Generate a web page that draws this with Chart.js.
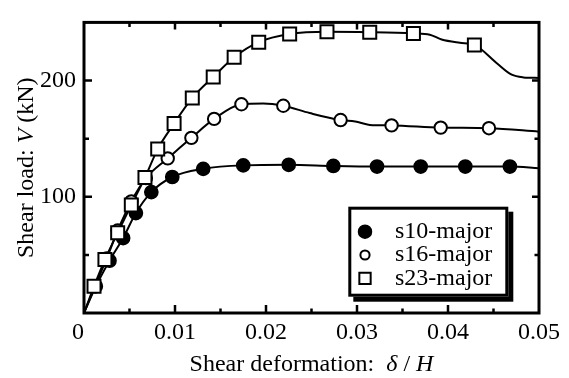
<!DOCTYPE html>
<html><head><meta charset="utf-8">
<script src="https://cdn.jsdelivr.net/npm/chart.js@4/dist/chart.umd.min.js"></script>
<style>html,body{margin:0;padding:0;background:#fff;}canvas{display:block;}</style>
</head><body>
<canvas id="c" width="569" height="378"></canvas>
<script>
// ---- data ----
const xTickLabels = ['0', '0.01', '0.02', '0.03', '0.04', '0.05'];
const yTickLabels = ['100', '200'];
const seriesNames = ['s10-major', 's16-major', 's23-major'];

// marker points
const s10X = [0.0013, 0.0028, 0.0043, 0.0057, 0.0074, 0.0097, 0.0131, 0.0175, 0.0225, 0.0274, 0.0322, 0.0370, 0.0419, 0.0468];
const s10Y = [23, 45, 64.5, 86, 104, 117, 124, 127, 127.5, 126.5, 126, 126, 126, 126];
const s16X = [0.0012, 0.0025, 0.0037, 0.0052, 0.0068, 0.0092, 0.0118, 0.0143, 0.0173, 0.0219, 0.0282, 0.0338, 0.0392, 0.0445];
const s16Y = [23, 47, 71, 96, 116, 133, 150.7, 167, 179.6, 178.3, 166, 161.4, 159.5, 159];
const s23X = [0.0011, 0.0023, 0.0037, 0.0052, 0.0067, 0.0081, 0.0099, 0.0119, 0.0142, 0.0165, 0.0192, 0.0226, 0.0267, 0.0314, 0.0362, 0.0429];
const s23Y = [23, 46, 69, 93, 116.5, 141, 163, 185, 203, 220, 233, 240, 242, 241.6, 240.5, 230.6];

// additional points of the continuous curves (no marker)
const s10CurveX = [0, 0.05];
const s10CurveY = [0, 124.5];
const s16CurveX = [0, 0.0197, 0.0248, 0.0298, 0.0314, 0.05];
const s16CurveY = [0, 180.3, 172, 164.8, 161.8, 156];
const s23CurveX = [0, 0.0380, 0.0393, 0.0413, 0.0454, 0.0470, 0.0483, 0.05];
const s23CurveY = [0, 239.4, 235.3, 232.5, 214.6, 205, 202.7, 202.2];

// ---- helpers ----
const FONT = "'Liberation Serif','Times New Roman',serif";
const pts = (xs, ys) => xs.map((x, i) => ({x: x, y: ys[i]}));
const curve = (mx, my, cx, cy) => pts(mx, my).concat(pts(cx, cy)).sort((a, b) => a.x - b.x);

const curveStyle = {showLine: true, pointRadius: 0, pointHoverRadius: 0, borderColor: '#000', borderWidth: 2, cubicInterpolationMode: 'monotone', fill: false};

const datasets = [
  Object.assign({label: seriesNames[0] + ' curve', data: curve(s10X, s10Y, s10CurveX, s10CurveY), order: 12}, curveStyle),
  Object.assign({label: seriesNames[1] + ' curve', data: curve(s16X, s16Y, s16CurveX, s16CurveY), order: 11}, curveStyle),
  Object.assign({label: seriesNames[2] + ' curve', data: curve(s23X, s23Y, s23CurveX, s23CurveY), order: 10}, curveStyle),
  {label: seriesNames[0], data: pts(s10X, s10Y), showLine: false, pointStyle: 'circle', pointRadius: 6.6, borderWidth: 1.5, borderColor: '#000', backgroundColor: '#000', order: 2, legendR: 6.5},
  {label: seriesNames[1], data: pts(s16X, s16Y), showLine: false, pointStyle: 'circle', pointRadius: 6.2, borderWidth: 2, borderColor: '#000', backgroundColor: '#fff', order: 1, legendR: 4.6},
  {label: seriesNames[2], data: pts(s23X, s23Y), showLine: false, pointStyle: 'rect', pointRadius: 9.2, borderWidth: 2, borderColor: '#000', backgroundColor: '#fff', order: 0, legendR: 8}
];

function drawSegments(ctx, segs, cx, cy, size) {
  let total = 0;
  segs.forEach(s => { ctx.font = (s[1] ? 'italic ' : '') + size + 'px ' + FONT; s.w = ctx.measureText(s[0]).width; total += s.w; });
  let x = cx - total / 2;
  segs.forEach(s => { ctx.font = (s[1] ? 'italic ' : '') + size + 'px ' + FONT; ctx.fillText(s[0], x, cy); x += s.w; });
}

const framePlugin = {
  id: 'frame',
  afterDatasetsDraw(chart) {
    const ctx = chart.ctx, a = chart.chartArea, x = chart.scales.x, y = chart.scales.y;
    ctx.save();
    ctx.strokeStyle = '#000';
    ctx.lineCap = 'butt';
    ctx.lineWidth = 2.5;
    ctx.beginPath();
    const xt = x.ticks.map(t => t.value);
    xt.forEach((v, i) => {
      const px = x.getPixelForValue(v);
      if (v > x.min && v < x.max) {
        ctx.moveTo(px, a.bottom); ctx.lineTo(px, a.bottom - 8);
        ctx.moveTo(px, a.top); ctx.lineTo(px, a.top + 7);
      }
      if (i < xt.length - 1) {
        const m = x.getPixelForValue((v + xt[i + 1]) / 2);
        ctx.moveTo(m, a.bottom); ctx.lineTo(m, a.bottom - 4.5);
        ctx.moveTo(m, a.top); ctx.lineTo(m, a.top + 4.5);
      }
    });
    y.ticks.forEach(t => {
      if (t.value <= y.min || t.value >= y.max) return;
      const py = y.getPixelForValue(t.value);
      const major = yTickLabels.indexOf(String(t.value)) >= 0;
      ctx.moveTo(a.left, py); ctx.lineTo(a.left + (major ? 8 : 5), py);
      ctx.moveTo(a.right, py); ctx.lineTo(a.right - (major ? 7 : 4.5), py);
    });
    ctx.stroke();
    ctx.lineWidth = 3;
    ctx.strokeRect(a.left, a.top, a.right - a.left, a.bottom - a.top);

    // origin label of the x axis
    ctx.fillStyle = '#000';
    ctx.font = '24px ' + FONT;
    ctx.textAlign = 'center';
    ctx.textBaseline = 'middle';
    ctx.fillText(xTickLabels[0], x.getPixelForValue(0) - 6, a.bottom + 19.5);

    // axis titles
    ctx.textAlign = 'left';
    ctx.textBaseline = 'alphabetic';
    drawSegments(ctx, [['Shear deformation:  ', false], ['\u03B4', true], [' / ', false], ['H', true]], (a.left + a.right) / 2, 371, 24);
    ctx.save();
    ctx.translate(33, (a.top + a.bottom) / 2);
    ctx.rotate(-Math.PI / 2);
    drawSegments(ctx, [['Shear load: ', false], ['V', true], [' (kN)', false]], 0, 0, 24);
    ctx.restore();

    // legend
    const bw = 160, bh = 90;
    const bx = a.right - 30.7 - bw, by = a.bottom - 16.3 - bh;
    ctx.fillStyle = '#000';
    ctx.fillRect(bx + 5, by + 5, bw, bh);
    ctx.fillStyle = '#fff';
    ctx.fillRect(bx, by, bw, bh);
    ctx.lineWidth = 3;
    ctx.strokeRect(bx + 1.5, by + 1.5, bw - 3, bh - 3);
    const items = chart.data.datasets.filter(d => d.showLine === false);
    items.forEach((d, i) => {
      const cy = by + 25 + i * 23.3, mx = bx + 16.7;
      ctx.fillStyle = d.backgroundColor;
      ctx.strokeStyle = '#000';
      ctx.lineWidth = d.borderWidth;
      ctx.beginPath();
      if (d.pointStyle === 'rect') {
        const s = d.legendR * Math.SQRT1_2;
        ctx.rect(mx - s, cy - s, 2 * s, 2 * s);
      } else {
        ctx.arc(mx, cy, d.legendR, 0, Math.PI * 2);
      }
      ctx.fill(); ctx.stroke();
      ctx.fillStyle = '#000';
      ctx.font = '24px ' + FONT;
      ctx.textAlign = 'left';
      ctx.textBaseline = 'middle';
      ctx.fillText(d.label, bx + 46.7, cy);
    });
    ctx.restore();
  }
};

new Chart(document.getElementById('c'), {
  type: 'scatter',
  data: {datasets: datasets},
  options: {
    responsive: false,
    animation: false,
    devicePixelRatio: 1,
    layout: {padding: {top: 11, right: 30, left: 0, bottom: 0}},
    plugins: {legend: {display: false}, tooltip: {enabled: false}},
    scales: {
      x: {
        type: 'linear', min: 0, max: 0.05,
        grid: {display: false, drawTicks: false},
        border: {display: false},
        ticks: {
          stepSize: 0.01, padding: 5, color: '#000', font: {family: FONT, size: 24},
          callback: v => { const l = xTickLabels.find(s => Math.abs(parseFloat(s) - v) < 1e-9); return (l && l !== xTickLabels[0]) ? l : ''; }
        },
        afterFit: s => { s.height = 65; }
      },
      y: {
        type: 'linear', min: 0, max: 250,
        grid: {display: false, drawTicks: false},
        border: {display: false},
        ticks: {
          stepSize: 50, padding: 8, color: '#000', font: {family: FONT, size: 24},
          callback: v => yTickLabels.indexOf(String(v)) >= 0 ? String(v) : ''
        },
        afterFit: s => { s.width = 84; }
      }
    }
  },
  plugins: [framePlugin]
});
</script>
</body></html>
